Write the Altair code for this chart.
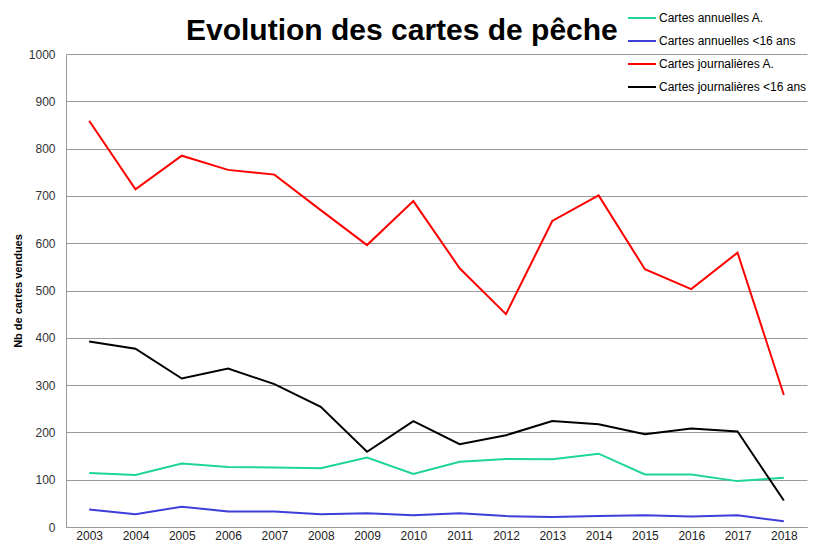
import altair as alt
import pandas as pd

years = [str(y) for y in range(2003, 2019)]
series_names = ["Cartes annuelles A.", "Cartes annuelles <16 ans",
                "Cartes journalières A.", "Cartes journalières <16 ans"]
annuelles_a = [114, 110, 134, 127, 126, 124, 147, 112, 138, 144, 143, 155, 111, 111, 97, 104]
annuelles_16 = [37, 27, 43, 33, 33, 27, 29, 25, 29, 23, 21, 23, 25, 22, 25, 12]
journalieres_a = [859, 714, 785, 755, 745, 670, 596, 689, 547, 450, 647, 701, 545, 503, 580, 279]
journalieres_16 = [392, 377, 314, 335, 302, 254, 159, 224, 175, 194, 224, 217, 196, 208, 202, 56]
colors = ["#1ED49C", "#3E3EDB", "#FF0000", "#000000"]
title_text = "Evolution des cartes de pêche"

rows = []
for name, vals in zip(series_names, [annuelles_a, annuelles_16, journalieres_a, journalieres_16]):
    for y, v in zip(years, vals):
        rows.append({"Année": y, "Série": name, "Valeur": v})
df = pd.DataFrame(rows)

font = "Liberation Sans"

lines = alt.Chart(df).mark_line(strokeWidth=2).encode(
    x=alt.X("Année:O", title=None, sort=years,
            scale=alt.Scale(paddingInner=0, paddingOuter=0.5),
            axis=alt.Axis(labelAngle=0, labelFont=font, labelFontSize=12, labelColor="#222",
                          domainColor="#999", ticks=False, labelPadding=3, grid=False)),
    y=alt.Y("Valeur:Q", title="Nb de cartes vendues",
            scale=alt.Scale(domain=[0, 1000], nice=False),
            axis=alt.Axis(values=list(range(0, 1001, 100)), format="d", labelFont=font, labelFontSize=12,
                          labelColor="#333", titleFont=font, titleFontSize=11, titleFontWeight="bold",
                          titleColor="#000", titlePadding=5, domainColor="#999", ticks=False,
                          labelPadding=11, gridColor="#999", gridWidth=1)),
    color=alt.Color("Série:N", sort=series_names,
                    scale=alt.Scale(domain=series_names, range=colors),
                    legend=alt.Legend(title=None, orient="none", legendX=561, legendY=-51,
                                      symbolType="stroke", symbolSize=784, symbolStrokeWidth=2,
                                      labelFont=font, labelFontSize=12, labelColor="#000",
                                      rowPadding=2, labelOffset=2, labelLimit=300)),
    order=alt.Order("Année:O"),
)

title = alt.Chart(pd.DataFrame({"t": [title_text]})).mark_text(
    font=font, fontSize=30, fontWeight="bold", color="#000", align="left", baseline="alphabetic"
).encode(x=alt.value(120), y=alt.value(-14), text="t:N")

chart = alt.layer(lines, title).properties(
    width=741, height=473,
    padding={"left": 58, "top": 46, "right": 1, "bottom": 17},
    autosize=alt.AutoSizeParams(type="none"),
).configure_view(stroke=None)

chart.save("out.html", embed_options={"renderer": "svg", "actions": False})
